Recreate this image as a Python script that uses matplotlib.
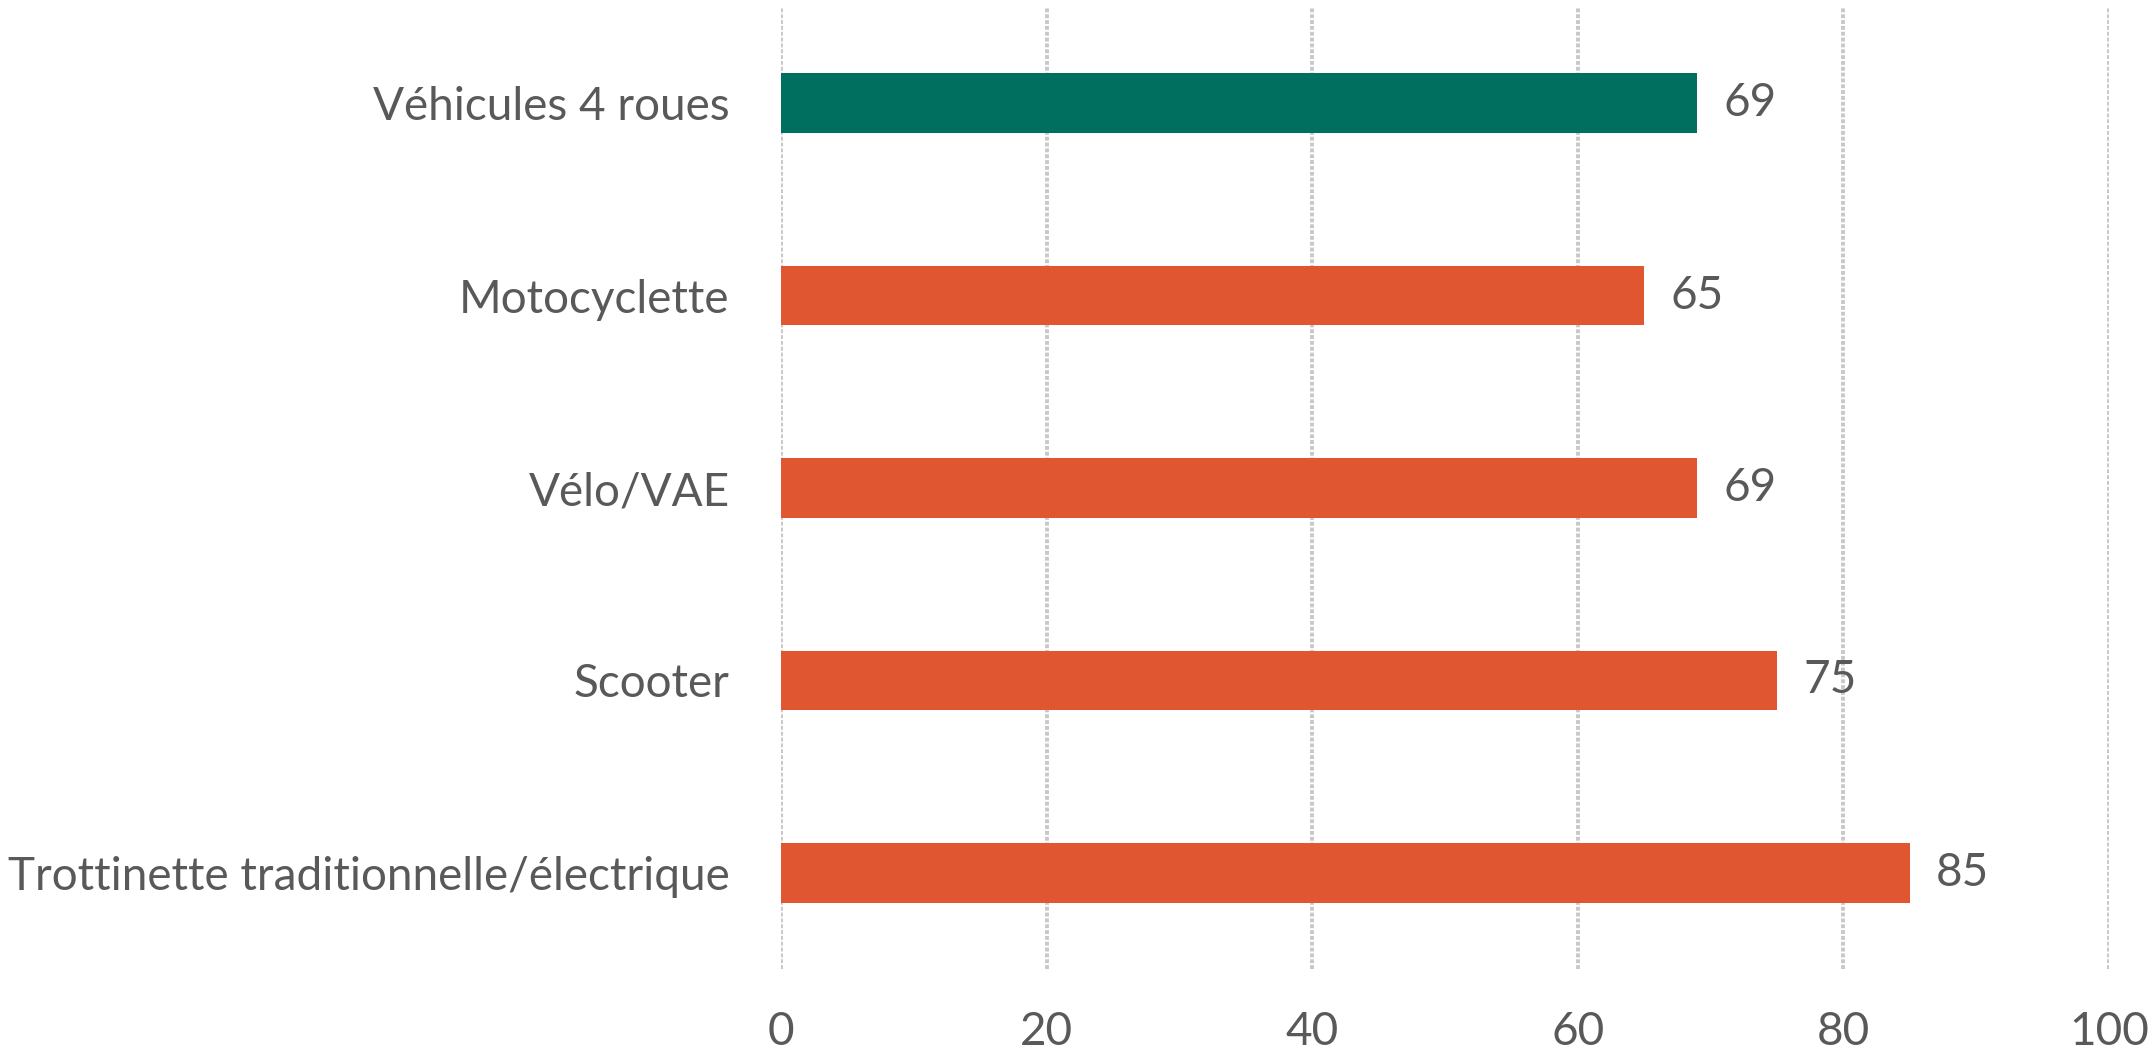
import matplotlib.pyplot as plt

# Data
categories = ["Véhicules 4 roues", "Motocyclette", "Vélo/VAE", "Scooter",
              "Trottinette traditionnelle/électrique"]
values = [69, 65, 69, 75, 85]
colors = ["#006F60", "#E05630", "#E05630", "#E05630", "#E05630"]
xticks = [0, 20, 40, 60, 80, 100]

plt.rcParams['font.family'] = ['Lato', 'DejaVu Sans']
text_color = "#595959"
fs = 33

fig = plt.figure(figsize=(21.54, 10.6), dpi=100)
ax = fig.add_axes([0.3626, 0.0858, 0.6164, 0.9076])

y = list(range(len(categories)))
ax.barh(y, values, height=0.31, color=colors, zorder=2)

for yi, v in zip(y, values):
    ax.text(v + 2.0, yi, str(v), va='center', ha='left',
            fontsize=fs, color=text_color)

ax.set_xlim(0, 100)
ax.set_ylim(len(categories) - 0.5, -0.5)
ax.set_yticks(y)
ax.set_yticklabels(categories, fontsize=fs, color=text_color)
ax.set_xticks(xticks)
ax.set_xticklabels([str(t) for t in xticks], fontsize=fs, color=text_color)
ax.tick_params(axis='both', length=0)
ax.tick_params(axis='y', pad=37)
ax.tick_params(axis='x', pad=30)

ax.xaxis.grid(True, color="#C8C8C8", linewidth=2.8, linestyle=(0, (1, 0.5)), zorder=0)
ax.set_axisbelow(True)
for s in ax.spines.values():
    s.set_visible(False)

fig.savefig("out.png", dpi=100)
